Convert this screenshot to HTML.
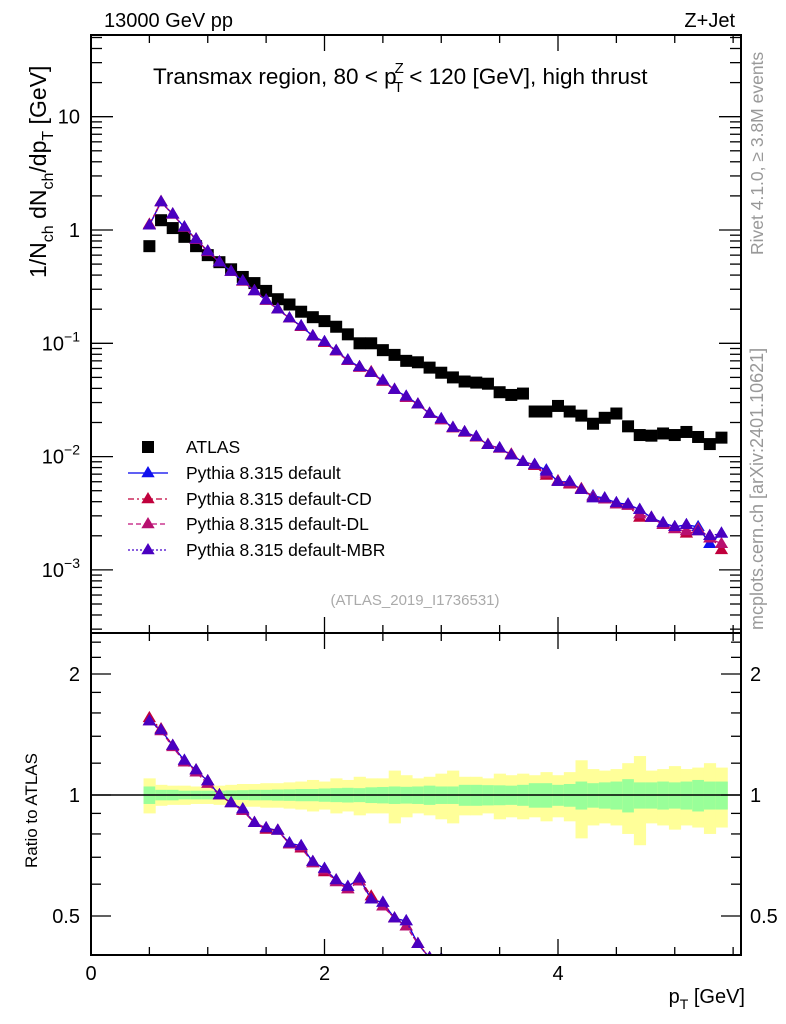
<!DOCTYPE html>
<html><head><meta charset="utf-8"><style>
html,body{margin:0;padding:0;background:#fff;overflow:hidden;width:786px;height:1024px;}
svg{display:block;font-family:"Liberation Sans",sans-serif;overflow:hidden;}
</style></head><body>
<svg id="chart" width="786" height="1024" viewBox="0 0 786 1024">
<g id="bands"></g>
<g id="marks"></g>
<g id="axes"></g>
<text x="104" y="27" font-size="20">13000 GeV pp</text>
<text x="735" y="27" font-size="20" text-anchor="end">Z+Jet</text>
<text x="153" y="84" font-size="22.5">Transmax region, 80 &lt; p<tspan font-size="15" dy="-11" dx="-2">Z</tspan><tspan font-size="15" dy="19" dx="-10">T</tspan><tspan dy="-8"> &lt; 120 [GeV], high thrust</tspan></text>
<text transform="translate(46,278) rotate(-90)" font-size="23">1/N<tspan font-size="16" dy="7">ch</tspan><tspan dy="-7"> dN</tspan><tspan font-size="16" dy="7">ch</tspan><tspan dy="-7">/dp</tspan><tspan font-size="16" dy="7">T</tspan><tspan dy="-7"> [GeV]</tspan></text>
<text transform="translate(37,868) rotate(-90)" font-size="17">Ratio to ATLAS</text>
<text x="745" y="1003" font-size="20" text-anchor="end">p<tspan font-size="14" dy="6">T</tspan><tspan dy="-6"> [GeV]</tspan></text>
<text transform="translate(763,255) rotate(-90)" font-size="17.5" fill="#999">Rivet 4.1.0, ≥ 3.8M events</text>
<text transform="translate(763,630) rotate(-90)" font-size="18" fill="#999">mcplots.cern.ch [arXiv:2401.10621]</text>
<text x="415" y="605" font-size="15" fill="#aaa" text-anchor="middle">(ATLAS_2019_I1736531)</text>
<g id="legend"></g>
</svg>
<script>
const xCenters=[0.5,0.6,0.7,0.8,0.9,1.0,1.1,1.2,1.3,1.4,1.5,1.6,1.7,1.8,1.9,2.0,2.1,2.2,2.3,2.4,2.5,2.6,2.7,2.8,2.9,3.0,3.1,3.2,3.3,3.4,3.5,3.6,3.7,3.8,3.9,4.0,4.1,4.2,4.3,4.4,4.5,4.6,4.7,4.8,4.9,5.0,5.1,5.2,5.3,5.4];
const atlas=[0.72,1.22,1.04,0.87,0.72,0.60,0.52,0.45,0.385,0.34,0.29,0.245,0.22,0.19,0.17,0.157,0.14,0.12,0.10,0.10,0.087,0.079,0.07,0.068,0.061,0.055,0.050,0.046,0.045,0.044,0.037,0.035,0.036,0.025,0.025,0.028,0.025,0.023,0.0195,0.022,0.024,0.0185,0.0155,0.0153,0.016,0.0155,0.0165,0.0149,0.0129,0.0147];
const mcDefault=[1.1,1.77,1.38,1.06,0.83,0.65,0.52,0.43,0.355,0.29,0.24,0.2,0.167,0.142,0.116,0.103,0.086,0.071,0.062,0.055,0.047,0.039,0.034,0.029,0.024,0.0215,0.018,0.0165,0.015,0.0127,0.0119,0.0103,0.009,0.0085,0.0076,0.006,0.006,0.0051,0.0045,0.0043,0.0039,0.0038,0.0034,0.0029,0.0026,0.0024,0.0025,0.0024,0.0017,0.0021];
const mcCD=[1.12,1.78,1.38,1.05,0.83,0.65,0.52,0.43,0.352,0.29,0.238,0.2,0.166,0.14,0.116,0.101,0.086,0.07,0.062,0.056,0.046,0.039,0.033,0.029,0.024,0.021,0.0178,0.0165,0.0148,0.0128,0.0118,0.0105,0.009,0.0083,0.0068,0.0061,0.0057,0.0052,0.0044,0.0042,0.0038,0.0037,0.0029,0.0029,0.0025,0.0023,0.0021,0.0022,0.002,0.0015];
const mcDL=[1.1,1.76,1.37,1.05,0.82,0.64,0.52,0.43,0.352,0.29,0.24,0.2,0.166,0.141,0.115,0.102,0.085,0.07,0.061,0.055,0.046,0.039,0.033,0.029,0.024,0.021,0.018,0.0163,0.0149,0.0127,0.0118,0.0104,0.009,0.0084,0.0071,0.006,0.0058,0.0051,0.0044,0.0042,0.0038,0.0037,0.0031,0.0029,0.0025,0.0023,0.0022,0.0023,0.0019,0.0017];
const mcMBR=[1.1,1.77,1.38,1.06,0.83,0.65,0.52,0.43,0.355,0.29,0.24,0.2,0.167,0.142,0.116,0.103,0.086,0.071,0.062,0.055,0.047,0.039,0.034,0.029,0.024,0.0215,0.018,0.0165,0.015,0.0127,0.0119,0.0103,0.009,0.0085,0.0074,0.006,0.006,0.0051,0.0043,0.0043,0.0039,0.0038,0.0034,0.0029,0.0026,0.0024,0.0025,0.0022,0.002,0.0021];
const statErr=[0.05,0.03,0.03,0.025,0.025,0.025,0.025,0.027,0.028,0.03,0.03,0.032,0.033,0.035,0.035,0.038,0.04,0.042,0.04,0.045,0.047,0.05,0.048,0.05,0.055,0.05,0.05,0.06,0.06,0.058,0.057,0.055,0.06,0.07,0.07,0.06,0.065,0.08,0.07,0.075,0.08,0.095,0.075,0.075,0.08,0.075,0.08,0.09,0.08,0.08];
const totErr=[0.1,0.06,0.055,0.055,0.05,0.05,0.055,0.06,0.065,0.065,0.07,0.07,0.075,0.08,0.09,0.08,0.1,0.09,0.11,0.1,0.1,0.15,0.12,0.1,0.11,0.13,0.15,0.11,0.11,0.1,0.13,0.12,0.13,0.12,0.14,0.12,0.14,0.22,0.16,0.15,0.16,0.2,0.25,0.15,0.16,0.18,0.16,0.17,0.2,0.17];
const xTickLabels=[0,2,4];
const yTickLabels=[10,1,0.1,0.01,0.001];
const rTickLabels=[2,1,0.5];

const NS="http://www.w3.org/2000/svg";
const L=91,R=741,T=35,MB=633,RB=955;
const X=v=>L+v*116.75;
const Y=v=>230-Math.log10(v)*113.3;
const RY=v=>795-Math.log2(v)*121;
const RYc=v=>Math.min(RB+10,Math.max(MB-10,RY(v)));
function mk(tag,attrs,parent){const e=document.createElementNS(NS,tag);for(const k in attrs)e.setAttribute(k,attrs[k]);parent.appendChild(e);return e;}
const bands=document.getElementById('bands'),marks=document.getElementById('marks'),axes=document.getElementById('axes'),legend=document.getElementById('legend');

const defs=mk('defs',{},document.getElementById('chart'));
const cp1=mk('clipPath',{id:'cmain'},defs);mk('rect',{x:L,y:T,width:R-L,height:MB-T},cp1);
const cp2=mk('clipPath',{id:'cratio'},defs);mk('rect',{x:L,y:MB,width:R-L,height:RB-MB},cp2);

const w=0.1;
xCenters.forEach((c,i)=>{
  const x0=X(c-w/2),x1=X(c+w/2);
  const y=mk('rect',{x:x0,y:RY(1+totErr[i]),width:x1-x0+0.5,height:RY(1-totErr[i])-RY(1+totErr[i]),fill:'#ffff99'},bands);
  
  
  const g=mk('rect',{x:x0,y:RY(1+statErr[i]),width:x1-x0+0.5,height:RY(1-statErr[i])-RY(1+statErr[i]),fill:'#99ff99'},bands);
  
  
});
mk('line',{x1:L,x2:R,y1:795,y2:795,stroke:'#000','stroke-width':1.5},bands);

const series=[
 {d:mcDefault,col:'#0000ee',fill:'#1010ee',dash:'',name:'pythia-default'},
 {d:mcCD,col:'#c0003c',fill:'#c0003c',dash:'6,3,2,3',name:'pythia-default-cd'},
 {d:mcDL,col:'#c0107a',fill:'#b81070',dash:'5,3',name:'pythia-default-dl'},
 {d:mcMBR,col:'#4400cc',fill:'#4a00c0',dash:'2,2',name:'pythia-default-mbr'}
];
function tri(x,y,s,fill,parent){return mk('path',{d:`M${x},${y-s} L${x+s*0.95},${y+s*0.6} L${x-s*0.95},${y+s*0.6}Z`,fill:fill},parent);}

const gm=mk('g',{'clip-path':'url(#cmain)'},marks);
const gr=mk('g',{'clip-path':'url(#cratio)'},marks);
xCenters.forEach((c,i)=>{
  const r=mk('rect',{x:X(c)-6,y:Y(atlas[i])-6,width:12,height:12,fill:'#000'},gm);
  
  
});
series.forEach(s=>{
  const pts=xCenters.map((c,i)=>X(c)+','+Y(s.d[i])).join(' ');
  const pl=mk('polyline',{points:pts,fill:'none',stroke:s.col,'stroke-width':1.3,'stroke-dasharray':s.dash},gm);
  
  
  const rp=xCenters.map((c,i)=>X(c)+','+RYc(s.d[i]/atlas[i])).join(' ');
  const rl=mk('polyline',{points:rp,fill:'none',stroke:s.col,'stroke-width':1.3,'stroke-dasharray':s.dash},gr);
  
  
  xCenters.forEach((c,i)=>{
    const t=tri(X(c),Y(s.d[i]),7,s.fill,gm);
    
    
    const ry=RY(s.d[i]/atlas[i]);
    if(ry<=RB+8&&ry>=MB-8){
      const t2=tri(X(c),ry,7,s.fill,gr);
      
      
    }
  });
});

mk('rect',{x:L,y:T,width:R-L,height:MB-T,fill:'none',stroke:'#000','stroke-width':2},axes);
mk('rect',{x:L,y:MB,width:R-L,height:RB-MB,fill:'none',stroke:'#000','stroke-width':2},axes);
for(let v=0;v<=5.5;v+=0.5){
  const major=Math.abs(v%2)<1e-9;const len=major?16:8;const x=X(v);
  [[T,1],[MB,-1],[MB,1],[RB,-1]].forEach(([y0,dir])=>mk('line',{x1:x,x2:x,y1:y0,y2:y0+dir*len,stroke:'#000','stroke-width':1.3},axes));
}
xTickLabels.forEach(v=>{
  const t=mk('text',{x:X(v),y:980,'font-size':20,'text-anchor':'middle'},axes);t.textContent=v;
  
  
});
for(let e=-4;e<=1;e++){for(let m=1;m<10;m++){const v=m*Math.pow(10,e);const y=Y(v);if(y<T||y>MB)continue;const len=m==1?22:11;
  mk('line',{x1:L,x2:L+len,y1:y,y2:y,stroke:'#000','stroke-width':1.3},axes);
  mk('line',{x1:R,x2:R-len,y1:y,y2:y,stroke:'#000','stroke-width':1.3},axes);}}
yTickLabels.forEach(v=>{
  const y=Y(v);const t=mk('text',{x:80,y:y+7,'font-size':20,'text-anchor':'end'},axes);
  
  
  if(v>=1)t.textContent=v;else{const e=Math.round(Math.log10(v));t.textContent='10';const s=mk('tspan',{dy:-9,'font-size':14},t);s.textContent='−'+(-e);}
});
[0.4,0.5,0.6,0.7,0.8,0.9,1,1.2,1.4,1.6,1.8,2,2.2,2.4].forEach(v=>{const y=RY(v);if(y<MB||y>RB)return;const len=(v==0.5||v==1||v==2)?20:10;
  mk('line',{x1:L,x2:L+len,y1:y,y2:y,stroke:'#000','stroke-width':1.3},axes);
  mk('line',{x1:R,x2:R-len,y1:y,y2:y,stroke:'#000','stroke-width':1.3},axes);});
rTickLabels.forEach(v=>{
  const t=mk('text',{x:80,y:RY(v)+7,'font-size':20,'text-anchor':'end'},axes);t.textContent=v;
  
  
  const t2=mk('text',{x:750,y:RY(v)+7,'font-size':20},axes);t2.textContent=v;
  
  
});
const ly=[447,473,499,524,550];
const labels=['ATLAS','Pythia 8.315 default','Pythia 8.315 default-CD','Pythia 8.315 default-DL','Pythia 8.315 default-MBR'];
labels.forEach((lab,i)=>{
  const g=mk('g',{},legend);
  
  
  if(i==0)mk('rect',{x:142,y:ly[i]-6,width:12,height:12,fill:'#000'},g);
  else{const s=series[i-1];mk('line',{x1:128,x2:168,y1:ly[i],y2:ly[i],stroke:s.col,'stroke-width':1.3,'stroke-dasharray':s.dash},g);tri(148,ly[i],7,s.fill,g);}
  const t=mk('text',{x:186,y:ly[i]+6,'font-size':17.5},g);t.textContent=lab;
});
</script>
</body></html>
